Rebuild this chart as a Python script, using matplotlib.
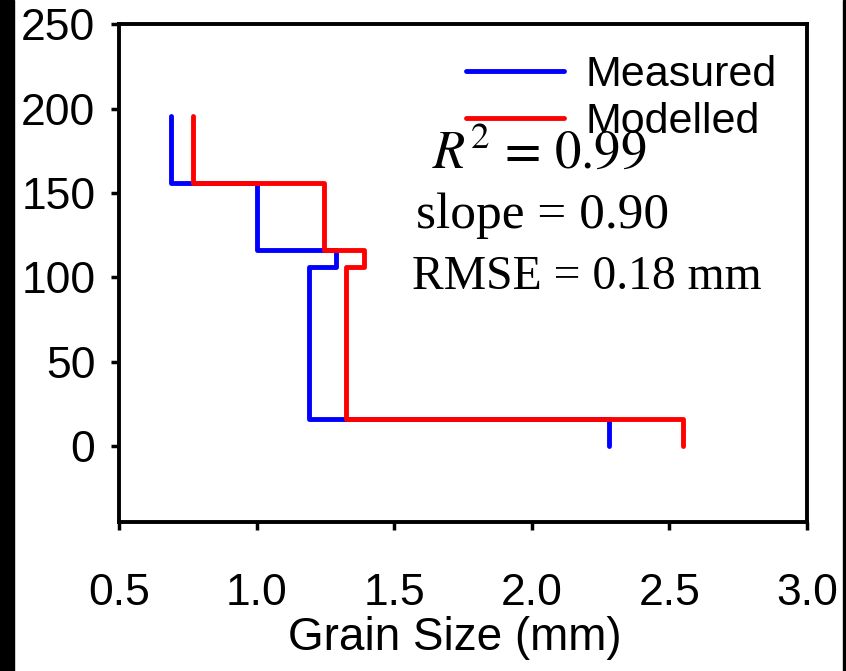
import matplotlib
matplotlib.use("Agg")
import matplotlib.pyplot as plt
from matplotlib.patches import Rectangle

# Step profiles: grain size (mm) vs depth/height
measured_x = [0.69, 0.69, 1.00, 1.00, 1.29, 1.29, 1.19, 1.19, 2.28, 2.28]
measured_y = [196, 156, 156, 116, 116, 106, 106, 16, 16, 0]
modelled_x = [0.77, 0.77, 1.245, 1.245, 1.39, 1.39, 1.325, 1.325, 2.55, 2.55]
modelled_y = [196, 156, 156, 116, 116, 106, 106, 16, 16, 0]

xticks = [0.5, 1.0, 1.5, 2.0, 2.5, 3.0]
xticklabels = ["0.5", "1.0", "1.5", "2.0", "2.5", "3.0"]
yticks = [0, 50, 100, 150, 200, 250]
yticklabels = ["0", "50", "100", "150", "200", "250"]

plt.rcParams['font.family'] = ['Liberation Sans', 'DejaVu Sans']
plt.rcParams['mathtext.fontset'] = 'stix'

W, H = 846, 671
fig = plt.figure(figsize=(W / 100, H / 100), dpi=100)
fig.patch.set_facecolor('white')
# black borders at left and right edges
fig.patches.append(Rectangle((0, 0), 14 / W, 1, transform=fig.transFigure, color='black', zorder=10))
fig.patches.append(Rectangle((843 / W, 0), 3 / W, 1, transform=fig.transFigure, color='black', zorder=10))

ax = fig.add_axes([119 / W, 1 - 521.7 / H, (807 - 119) / W, (521.7 - 24.5) / H])

ax.plot(measured_x, measured_y, color='#0000ff', lw=3.5, solid_joinstyle='round',
        solid_capstyle='round', label='Measured')
ax.plot(modelled_x, modelled_y, color='#ff0000', lw=3.5, solid_joinstyle='round',
        solid_capstyle='round', label='Modelled')

ax.set_xlim(0.5, 3.0)
ax.set_ylim(-45, 250)
ax.set_xticks(xticks)
ax.set_xticklabels(xticklabels)
ax.set_yticks(yticks)
ax.set_yticklabels(yticklabels)
ax.tick_params(axis='both', direction='out', length=6, width=2.5, labelsize=32)
ax.tick_params(axis='x', pad=31)
ax.tick_params(axis='y', pad=11)
for s in ax.spines.values():
    s.set_linewidth(2.8)
ax.set_xlabel('Grain Size (mm)', fontsize=33, labelpad=0)
ax.xaxis.set_label_coords((455 - 119) / (807 - 119), -0.19)

leg = ax.legend(loc='upper left', bbox_to_anchor=(466 / W, 1 - 55 / H),
                bbox_transform=fig.transFigure, frameon=False, fontsize=31,
                handlelength=2.28, labelspacing=0.16, handletextpad=0.5,
                borderaxespad=0, borderpad=0)
for h in leg.get_lines():
    h.set_linewidth(3.5)

fig.text(432 / W, 1 - 167.7 / H, r'$R^2$ = 0.99', fontsize=38, family='STIXGeneral',
         ha='left', va='baseline')
fig.text(416 / W, 1 - 227.7 / H, 'slope = 0.90', fontsize=37,
         family='Liberation Serif', ha='left', va='baseline')
fig.text(412 / W, 1 - 289.3 / H, 'RMSE = 0.18 mm', fontsize=34.3,
         family='Liberation Serif', ha='left', va='baseline')

fig.savefig('out.png', dpi=100)
